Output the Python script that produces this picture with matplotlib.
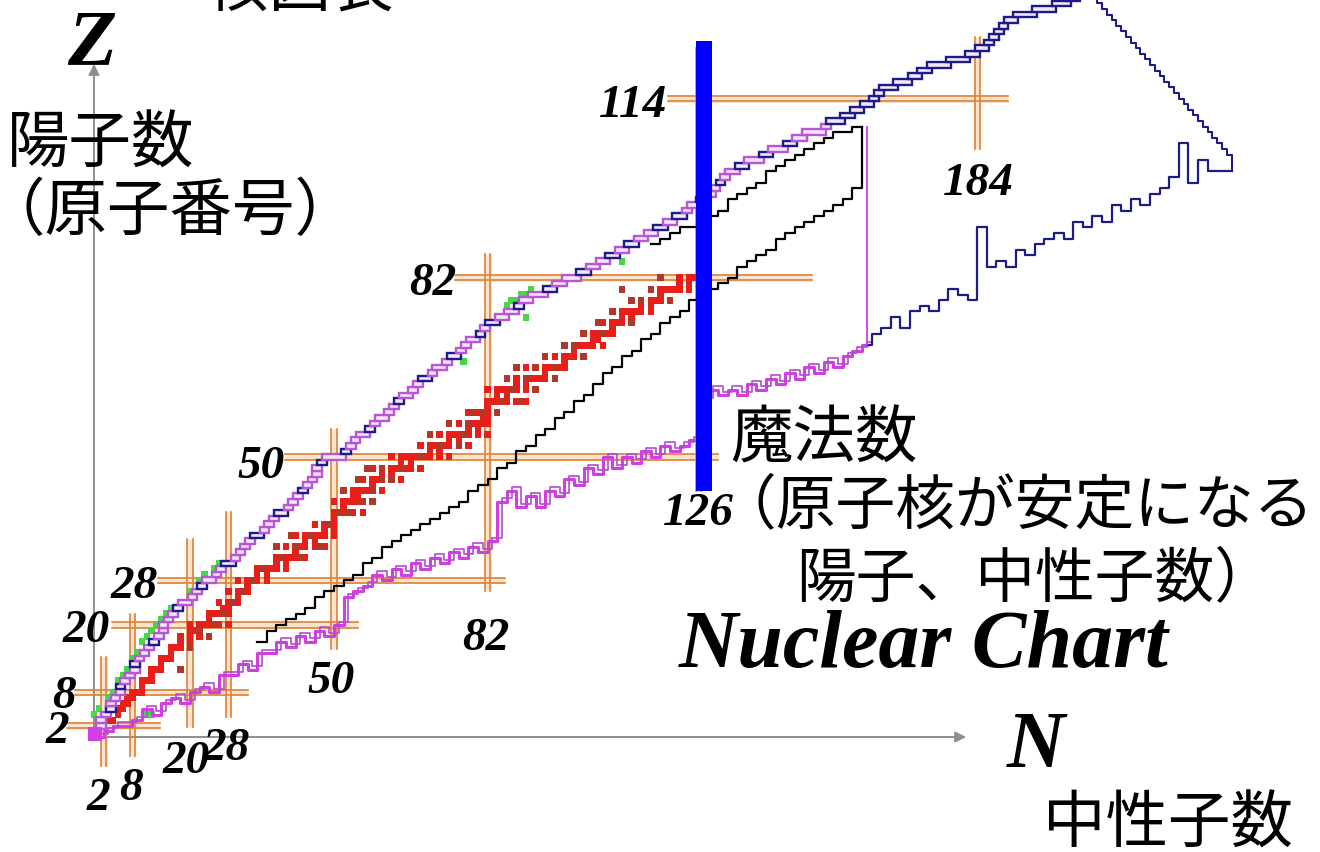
import matplotlib
matplotlib.use("Agg")
import matplotlib.pyplot as plt
from matplotlib.patches import Rectangle
from matplotlib.collections import PatchCollection

plt.rcParams['font.family'] = ['Noto Sans CJK JP', 'DejaVu Sans']

# ---------------- data ----------------
# magic numbers and the stretch of each double guide line
magic_Z = [2, 8, 20, 28, 50, 82, 114]
magic_Z_span = [(-5.6, 13.8), (-4, 32), (3.8, 55), (13.3, 85.6),
                (39.8, 130), (75.2, 149.6), (119.6, 190.4)]
magic_N = [2, 8, 20, 28, 50, 82, 126, 184]
magic_N_span = [(-5.2, 14.3), (-3.4, 22), (1.8, 35.4), (3.6, 40.2),
                (15.7, 55), (26, 86.3), (44, 123), (105, 125)]

# proton-rich edge: lightest neutron number for each Z
upper_Z = list(range(1, 133))
upper_N = [0, 1, 1, 2, 3, 3, 4, 5, 5, 6,
           7, 8, 8, 9, 10, 11, 12, 13, 14, 14,
           15, 16, 17, 18, 20, 21, 22, 23, 25, 26,
           27, 29, 30, 31, 32, 33, 35, 36, 37, 38,
           40, 41, 42, 43, 44, 45, 46, 46, 47, 48,
           52, 53, 54, 55, 57, 58, 59, 61, 62, 63,
           64, 66, 67, 68, 70, 71, 73, 74, 76, 77,
           78, 80, 81, 82, 84, 86, 88, 89, 91, 94,
           96, 98, 101, 103, 105, 107, 109, 111, 113, 115,
           117, 119, 121, 123, 124, 126, 127, 129, 130, 131,
           132, 134, 136, 139, 141, 144, 146, 148, 152, 153,
           156, 158, 160, 162, 163, 164, 167, 170, 172, 174,
           178, 182, 184, 186, 187, 188, 189, 190, 192, 196,
           200, 203]
navy_box_Z = [5, 9, 13, 17, 23, 27, 31, 36, 40, 44, 49, 51, 55, 60, 64, 68,
              72, 74, 77, 80, 83, 86, 88, 91, 93, 96, 99, 102, 104, 106]

# neutron-rich edge: lowest Z for every second neutron number
lower_N = list(range(0, 238, 2))
lower_Z = [0, 1, 2, 2, 3, 5, 4, 6, 7, 6,
           8, 9, 8, 11, 11, 13, 12, 15, 15, 17,
           16, 18, 17, 19, 18, 20, 25, 26, 27, 29,
           28, 30, 29, 31, 30, 32, 31, 33, 32, 34,
           33, 35, 42, 44, 41, 43, 41, 44, 43, 46,
           45, 48, 47, 50, 48, 50, 49, 51, 50, 52,
           51, 52, 53, 60, 62, 61, 62, 61, 63, 62,
           64, 63, 65, 64, 66, 65, 67, 66, 68, 69,
           70, 72, 73, 75, 73, 76, 77, 76, 78, 80,
           79, 78, 91, 84, 85, 84, 87, 86, 88, 89,
           90, 89, 92, 91, 93, 92, 95, 94, 96, 95,
           97, 98, 100, 106, 99, 103, 101, 101, 101]
lower_end_N = 237
bound_N = 161            # vertical boundary of the predicted region
bound_Z = (70, 109)

# right-hand edge of the predicted region (Z rising, N falling)
edge_Z = list(range(104, 133))
edge_N = [237, 236, 235, 234, 233, 232, 231, 230, 229, 228,
          227, 226, 225, 224, 223, 222, 221, 220, 219, 218,
          217, 216, 215, 214, 213, 212, 211, 210, 209]

# limits of observed nuclei (black)
black_N = list(range(34, 162, 2))
black_Z = [17, 19, 20, 21, 22, 23, 25, 26, 27, 28,
           29, 31, 32, 34, 35, 36, 37, 38, 39, 40,
           41, 42, 44, 45, 46, 48, 49, 51, 52, 54,
           55, 57, 58, 60, 61, 63, 65, 66, 68, 69,
           71, 72, 74, 75, 76, 78, 79, 80, 81, 82,
           84, 85, 86, 87, 89, 90, 91, 92, 93, 94,
           95, 96, 98, 102]
black_top_Z = 109
ublack_N = list(range(116, 162, 2))
ublack_Z = [88, 89, 90, 91, 91, 92, 93, 94, 96, 97, 98, 99, 101, 102, 103,
            104, 105, 106, 107, 108, 108, 109, 109]

# stable nuclides: Z -> neutron numbers
stable = {
    1: [0, 1], 2: [1, 2], 3: [3, 4], 4: [5], 5: [5, 6], 6: [6, 7], 7: [7, 8],
    8: [8, 9, 10], 9: [10], 10: [10, 11, 12], 11: [12], 12: [12, 13, 14],
    13: [14], 14: [14, 15, 16], 15: [16], 16: [16, 17, 18, 20], 17: [18, 20],
    18: [18, 20, 22], 19: [20, 21, 22], 20: [20, 22, 23, 24, 26, 28], 21: [24],
    22: [24, 25, 26, 27, 28], 23: [27, 28], 24: [26, 28, 29, 30], 25: [30],
    26: [28, 30, 31, 32], 27: [32], 28: [30, 32, 33, 34, 36], 29: [34, 36],
    30: [34, 36, 37, 38, 40], 31: [38, 40], 32: [38, 40, 41, 42, 44], 33: [42],
    34: [40, 42, 43, 44, 46, 48], 35: [44, 46], 36: [42, 44, 46, 47, 48, 50],
    37: [48, 50], 38: [46, 48, 49, 50], 39: [50], 40: [50, 51, 52, 54, 56],
    41: [52], 42: [50, 52, 53, 54, 55, 56, 58], 43: [54, 55],
    44: [52, 54, 55, 56, 57, 58, 60],
    45: [58], 46: [56, 58, 59, 60, 62, 64], 47: [60, 62],
    48: [58, 60, 62, 63, 64, 65, 66, 68], 49: [64, 66],
    50: [62, 64, 65, 66, 67, 68, 69, 70, 72, 74], 51: [70, 72],
    52: [68, 70, 71, 72, 73, 74, 76, 78], 53: [74, 76],
    54: [70, 72, 74, 75, 76, 77, 78, 80, 82], 55: [78, 80],
    56: [74, 76, 78, 79, 80, 81, 82], 57: [81, 82], 58: [78, 80, 82, 84],
    59: [82], 60: [82, 83, 84, 85, 86, 88, 90], 61: [84, 86],
    62: [82, 84, 85, 86, 87, 88, 90, 92],
    63: [88, 90], 64: [88, 90, 91, 92, 93, 94, 96], 65: [94],
    66: [90, 92, 94, 95, 96, 97, 98], 67: [98], 68: [94, 96, 98, 99, 100, 102],
    69: [100], 70: [98, 100, 101, 102, 103, 104, 106], 71: [104, 105],
    72: [102, 104, 105, 106, 107, 108], 73: [108], 74: [106, 108, 109, 110, 112],
    75: [110, 112], 76: [108, 110, 111, 112, 113, 114, 116], 77: [114, 116],
    78: [112, 114, 116, 117, 118, 120], 79: [118],
    80: [116, 118, 119, 120, 121, 122, 124], 81: [122, 124],
    82: [122, 124, 125, 126], 83: [126],
}
# long-lived neighbours (N, Z)
longlived = [(116, 80), (112, 78), (108, 76), (120, 78), (105, 74), (112, 74),
             (102, 72), (98, 70), (102, 68), (94, 68), (88, 66), (92, 66),
             (96, 64), (86, 64), (92, 62), (89, 60), (84, 58), (79, 58),
             (78, 56), (74, 56), (70, 54), (76, 52), (57, 48), (60, 48),
             (55, 46), (62, 46), (58, 44), (52, 44), (58, 42), (53, 40),
             (41, 36), (43, 32), (47, 34), (38, 34), (22, 19), (25, 20),
             (18, 12), (29, 24), (31, 26), (118, 82), (110, 80),
             (114, 78), (106, 72), (100, 70), (96, 66), (90, 64), (87, 62),
             (85, 60), (81, 58), (77, 54), (72, 52), (68, 50), (64, 48),
             (60, 46), (56, 42), (51, 40), (49, 38), (45, 36), (42, 34),
             (39, 32), (35, 30), (33, 28), (27, 22), (24, 18), (20, 16)]
# proton emitters along the proton-rich edge (N, Z)
emitters = [(0, 4), (1, 5), (3, 7), (4, 8), (5, 10), (6, 11), (7, 12), (8, 14),
            (9, 15), (10, 17), (11, 18), (12, 19), (13, 20), (14, 21), (15, 22),
            (16, 23), (20, 26), (22, 28), (23, 29), (25, 30), (26, 31), (53, 52),
            (57, 55), (66, 62), (67, 63), (77, 67), (86, 77), (87, 78), (88, 78),
            (89, 79), (90, 79), (91, 80), (90, 75), (110, 85), (11, 4), (12, 4)]

# highlighted magic neutron number
highlight_N = (125.4, 128.75)
highlight_Z = (43.9, 124.3)

# ---------------- drawing ----------------
VIOLET = '#b856d6'
MAGENTA = '#d43ce4'
NAVY = '#1c1c88'
ORANGE = '#dc8238'
GLOW = '#fbe3cc'

fig = plt.figure(figsize=(13.2, 8.53), dpi=100)
ax = fig.add_axes([0, 0, 1, 1])
ax.set_xlim(-19.583, 255.417)
ax.set_ylim(-20.536, 131.786)
ax.axis('off')

# magic-number double lines
for z, (n0, n1) in zip(magic_Z, magic_Z_span):
    ax.plot([n0, n1], [z, z], color=GLOW, lw=5, zorder=0.5, solid_capstyle='butt')
    for d in (-0.45, 0.45):
        ax.plot([n0, n1], [z + d, z + d], color=ORANGE, lw=1.2, zorder=1)
for n, (z0, z1) in zip(magic_N, magic_N_span):
    ax.plot([n, n], [z0, z1], color=GLOW, lw=5, zorder=0.5, solid_capstyle='butt')
    for d in (-0.55, 0.55):
        ax.plot([n + d, n + d], [z0, z1], color=ORANGE, lw=1.2, zorder=1)

# axes with arrow heads
ax.annotate('', xy=(0, 120.2), xytext=(0, 0),
            arrowprops=dict(arrowstyle='-|>', color='#8e8e8e', lw=1.4,
                            mutation_scale=16, shrinkA=0, shrinkB=0), zorder=0.8)
ax.annotate('', xy=(181.7, 0), xytext=(0, 0),
            arrowprops=dict(arrowstyle='-|>', color='#8e8e8e', lw=1.4,
                            mutation_scale=16, shrinkA=0, shrinkB=0), zorder=0.8)

# stable and long-lived nuclides
cw, ch = 1.35, 1.25
cells = [Rectangle((n - cw / 2, z - ch / 2), cw, ch) for z, ns in stable.items() for n in ns]
ax.add_collection(PatchCollection(cells, facecolor='#e81e18', edgecolor='none', zorder=2))
cells = [Rectangle((n - cw / 2, z - ch / 2), cw, ch) for n, z in longlived]
ax.add_collection(PatchCollection(cells, facecolor='#b0382a', edgecolor='none', zorder=2))
cells = [Rectangle((n - cw / 2, z - ch / 2), cw, ch) for n, z in emitters]
ax.add_collection(PatchCollection(cells, facecolor='#46d846', edgecolor='none', zorder=2))

# proton-rich edge as a chain of boxes
for i, (z, n) in enumerate(zip(upper_Z, upper_N)):
    n_next = upper_N[i + 1] if i + 1 < len(upper_N) else n + 2
    w = max(n_next - n, 1) + 1
    col = NAVY if (z >= 110 or z in navy_box_Z) else VIOLET
    ax.add_patch(Rectangle((n - 0.5, z - 0.5), w, 1, facecolor='#f6e6fa',
                           edgecolor=col, lw=1.7, zorder=3))

# neutron-rich edge (doubled outline for the boxed look)
split = lower_N.index(bound_N - 1)
mag_N = lower_N[:split + 1] + [bound_N]
mag_Z = lower_Z[:split + 1] + [lower_Z[split]]
ax.step(mag_N, mag_Z, where='post', color=MAGENTA, lw=2.2, zorder=3)
ax.step([n + 1 for n in mag_N], [z + 0.6 for z in mag_Z], where='post',
        color='#b04cd0', lw=1.2, zorder=3)
blu_N = [bound_N] + lower_N[split + 1:] + [lower_end_N]
blu_Z = [lower_Z[split]] + lower_Z[split + 1:] + [lower_Z[-1]]
ax.step(blu_N, blu_Z, where='post', color=NAVY, lw=1.6, zorder=3)

# right-hand edge
en, ez = [lower_end_N], [lower_Z[-1]]
cur = lower_Z[-1]
for n, z in zip(edge_N, edge_Z):
    en += [n, n]
    ez += [cur, z]
    cur = z
ax.plot(en, ez, color=NAVY, lw=1.5, zorder=3)

# boundary of the predicted region
ax.plot([bound_N, bound_N], bound_Z, color=MAGENTA, lw=1.3, zorder=3)

# observed-nuclei limits
ax.step(black_N + [black_N[-1]], black_Z + [black_top_Z], where='post',
        color='black', lw=1.6, zorder=3.2)
ax.step(ublack_N, ublack_Z, where='post', color='black', lw=1.6, zorder=3.2)

# origin blob
ax.scatter([0.3], [0.5], s=110, color=MAGENTA, marker='s', zorder=3.3, linewidths=0)

# highlighted N = 126
ax.add_patch(Rectangle((highlight_N[0], highlight_Z[0]),
                       highlight_N[1] - highlight_N[0], highlight_Z[1] - highlight_Z[0],
                       facecolor='#0000ff', edgecolor='none', zorder=5))

# magic number labels
serif = dict(family='Liberation Serif', weight='bold', style='italic',
             fontsize=34, color='black', zorder=6)
z_label_pos = [(-7.7, -0.9), (-6.25, 5.36), (-1.7, 17.1), (8.3, 25.0),
               (34.8, 46.4), (70.6, 79.1), (112.3, 110.9)]
for z, (x, y) in zip(magic_Z, z_label_pos):
    ax.text(x, y, str(z), ha='center', va='baseline', **serif)
n_label_pos = [(1.0, -12.9), (7.7, -11.1), (19.2, -6.25), (27.5, -3.9),
               (49.4, 8.0), (81.7, 15.7), (126.0, 38.0), (184.2, 97.0)]
for n, (x, y) in zip(magic_N, n_label_pos):
    ax.text(x, y, str(n), ha='center', va='baseline', **serif)

# axis letters and title
fig.text(0.0697, 0.924, 'Z', ha='center', va='baseline', family='Liberation Serif',
         weight='bold', style='italic', fontsize=58)
fig.text(0.785, 0.101, 'N', ha='center', va='baseline', family='Liberation Serif',
         weight='bold', style='italic', fontsize=58)
fig.text(0.514, 0.218, 'Nuclear Chart', ha='left', va='baseline',
         family='Liberation Serif', weight='bold', style='italic', fontsize=59)

# Japanese captions
jp = dict(family=['Noto Sans CJK JP', 'DejaVu Sans'], fontsize=45, color='black')
fig.text(0.227, 0.993, '核図表', ha='center', va='baseline', **jp)
fig.text(0.0053, 0.809, '陽子数', ha='left', va='baseline', **jp)
fig.text(-0.0129, 0.730, '（原子番号）', ha='left', va='baseline', **jp)
fig.text(0.553, 0.463, '魔法数', ha='left', va='baseline', **jp)
fig.text(0.543, 0.387, '（原子核が安定になる', ha='left', va='baseline',
         **{**jp, 'fontsize': 43})
fig.text(0.603, 0.301, '陽子、中性子数）', ha='left', va='baseline',
         **{**jp, 'fontsize': 43})
fig.text(0.790, 0.0117, '中性子数', ha='left', va='baseline', **jp)

fig.savefig('out.png', dpi=100, facecolor='white')
